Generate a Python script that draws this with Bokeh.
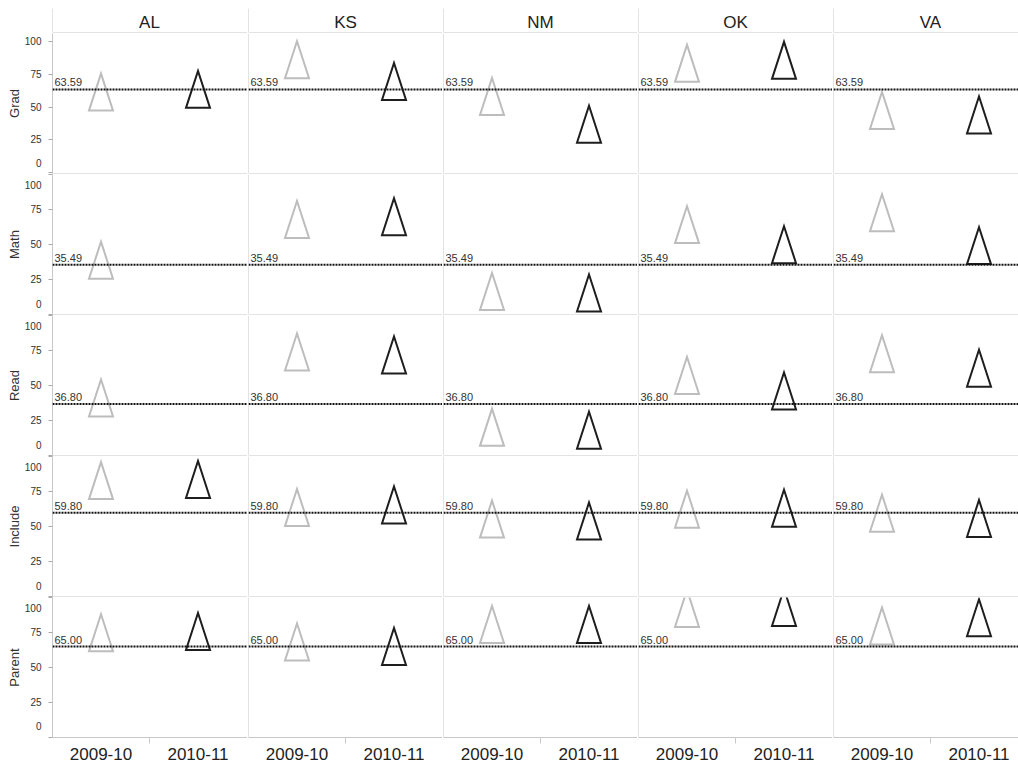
from bokeh.plotting import figure
from bokeh.layouts import gridplot
from bokeh.models import Range1d, LinearAxis, FixedTicker, Span
from bokeh.core.properties import value
from bokeh.embed import file_html
from bokeh.resources import INLINE

# ---------------- data ----------------
states = ["AL", "KS", "NM", "OK", "VA"]
measures = ["Grad", "Math", "Read", "Include", "Parent"]
years = ["2009-10", "2010-11"]
reference = [63.59, 35.49, 36.80, 59.80, 65.00]
y_ticks = [0, 25, 50, 75, 100]

grad_2009 = [61.5, 86.3, 58.1, 83.6, 47.4]
grad_2010 = [63.6, 69.7, 36.8, 85.9, 44.0]
math_2009 = [38.8, 67.9, 16.5, 64.2, 72.7]
math_2010 = [None, 69.9, 15.4, 49.9, 49.2]
read_2009 = [41.1, 73.9, 20.1, 57.1, 72.7]
read_2010 = [None, 71.8, 18.1, 46.1, 62.4]
include_2009 = [82.8, 63.5, 55.3, 62.4, 59.5]
include_2010 = [83.6, 65.4, 53.9, 63.0, 55.7]
parent_2009 = [74.8, 68.3, 80.7, 92.2, 79.6]
parent_2010 = [75.7, 65.0, 80.7, 92.9, 85.5]

series = {
    "Grad": (grad_2009, grad_2010),
    "Math": (math_2009, math_2010),
    "Read": (read_2009, read_2010),
    "Include": (include_2009, include_2010),
    "Parent": (parent_2009, parent_2010),
}
y_limits = {
    "Grad": (-1.0, 106.5),
    "Math": (0, 100),
    "Read": (0, 100),
    "Include": (0, 100),
    "Parent": (0, 100),
}

# ---------------- style / layout ----------------
SANS = "Liberation Sans"
LINE = "#c8c8c8"
TEXT = "#333333"
YEAR_COLORS = ["#bdbdbd", "#1e1e1e"]
AXIS_W = 52
CELL_W = 195
LAST_W = 186
HEADER_TOP = 8
HEADER_H = 33
ROW_H = 141
XAXIS_H = 25
PX_PER_X = 97.0
TRI_HW = 12
TRI_HH = 18.5
TICK_OUT = 4
LABEL_STANDOFF = 7


def col_geometry(ci):
    first = ci == 0
    last = ci == len(states) - 1
    total = LAST_W if last else CELL_W
    left = AXIS_W if first else 1
    fw = total - (0 if first else 1)
    return left, fw, fw / PX_PER_X


def base_fig(ci, frame_h, y_range, top_border, bottom_border):
    left, fw, x_end = col_geometry(ci)
    p = figure(frame_width=fw, frame_height=frame_h,
               x_range=Range1d(0, x_end), y_range=y_range,
               x_axis_location=None, y_axis_location=None,
               output_backend="svg", toolbar_location=None,
               min_border_left=left, min_border_right=0,
               min_border_top=top_border, min_border_bottom=bottom_border)
    p.grid.visible = False
    p.outline_line_color = None
    p.background_fill_color = "white"
    p.border_fill_color = "white"
    return p, x_end


rows = []

# header row
header = []
head_frame = HEADER_H - HEADER_TOP - 1
for ci, st in enumerate(states):
    p, x_end = base_fig(ci, head_frame, Range1d(0, 1), HEADER_TOP, 1)
    p.text(x=[len(years) / 2], y=[0.4], text=[st], text_align="center",
           text_baseline="middle", text_font=value(SANS),
           text_font_size="17px", text_color="#222222")
    p.add_layout(Span(location=0, dimension="height", line_color=LINE, line_width=1))
    p.add_layout(Span(location=0, dimension="width", line_color=LINE, line_width=1))
    header.append(p)
rows.append(header)

for ri, m in enumerate(measures):
    bottom = ri == len(measures) - 1
    y0, y1 = y_limits[m]
    frame_h = ROW_H - 1
    ypx = frame_h / (y1 - y0)
    hh = TRI_HH / ypx
    hw = TRI_HW / PX_PER_X
    ref = reference[ri]
    row = []
    for ci, st in enumerate(states):
        p, x_end = base_fig(ci, frame_h, Range1d(y0, y1), 0,
                            XAXIS_H if bottom else 1)

        # borders
        if ci > 0:
            p.add_layout(Span(location=0, dimension="height", line_color=LINE, line_width=1))
        if not bottom:
            p.add_layout(Span(location=y0, dimension="width", line_color=LINE, line_width=1))

        # reference line + label
        p.add_layout(Span(location=ref, dimension="width", line_color="#111111",
                          line_width=2, line_dash="2 1"))
        p.text(x=[0], y=[ref], text=[f"{ref:.2f}"], x_offset=2, y_offset=-3,
               text_align="left", text_baseline="bottom", text_font=value(SANS),
               text_font_size="11px", text_color=TEXT)

        # triangles
        xs, ys, cols = [], [], []
        for k, vals in enumerate(series[m]):
            v = vals[ci]
            if v is None:
                continue
            xc = k + 0.5
            xs.append([xc - hw, xc + hw, xc])
            ys.append([v - hh, v - hh, v + hh])
            cols.append(YEAR_COLORS[k])
        p.patches(xs, ys, fill_color=None, line_color=cols, line_width=2,
                  line_join="miter")

        # y axis (edge labels nudged inside the pane, as in the original)
        if ci == 0:
            overrides = {}
            if (y1 - 100) * ypx < 6:
                overrides[100] = "\n100"
            if (0 - y0) * ypx < 6:
                overrides[0] = "0" + ("\n" * 4 if bottom else "\n")
            ax = LinearAxis(ticker=FixedTicker(ticks=y_ticks), axis_label=m,
                            major_label_overrides=overrides)
            ax.axis_line_color = LINE
            ax.major_tick_line_color = "#aaaaaa"
            ax.major_tick_out = TICK_OUT
            ax.major_tick_in = 0
            ax.minor_tick_out = 0
            ax.minor_tick_in = 0
            ax.major_label_standoff = LABEL_STANDOFF
            ax.major_label_text_font = SANS
            ax.major_label_text_font_size = "10px"
            ax.major_label_text_line_height = 0.5
            ax.major_label_text_color = TEXT
            ax.axis_label_standoff = 0
            ax.axis_label_text_font = SANS
            ax.axis_label_text_font_size = "13px"
            ax.axis_label_text_font_style = "normal"
            ax.axis_label_text_color = TEXT
            p.add_layout(ax, "left")

        # x axis
        if bottom:
            xt = [k + 0.5 for k in range(len(years))]
            xov = {k + 0.5: years[k] for k in range(len(years))}
            xax = LinearAxis(ticker=FixedTicker(ticks=xt, minor_ticks=[1.0]),
                             major_label_overrides=xov)
            xax.axis_line_color = LINE
            xax.major_tick_out = 0
            xax.major_tick_in = 0
            xax.minor_tick_out = 6
            xax.minor_tick_in = 0
            xax.minor_tick_line_color = LINE
            xax.major_label_standoff = 4
            xax.major_label_text_font = SANS
            xax.major_label_text_font_size = "17px"
            xax.major_label_text_color = "#222222"
            p.add_layout(xax, "below")
        row.append(p)
    rows.append(row)

grid = gridplot(rows, toolbar_location=None)
open("out.html", "w").write(file_html(grid, INLINE))
